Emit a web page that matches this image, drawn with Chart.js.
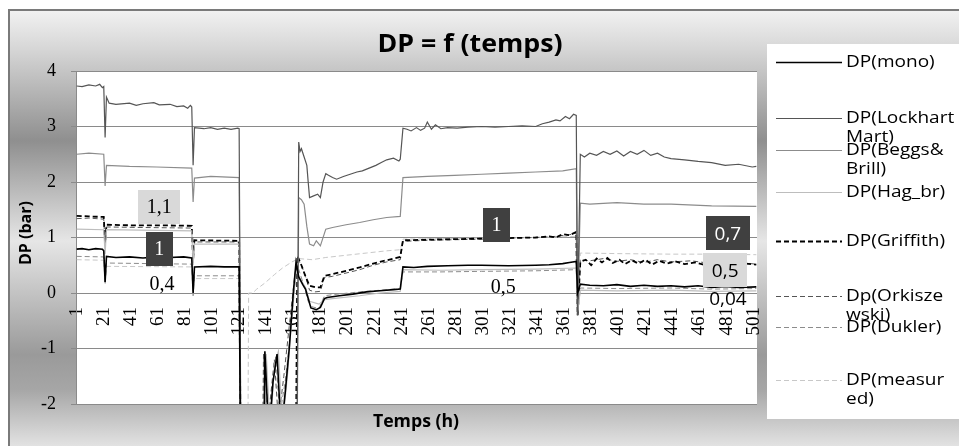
<!DOCTYPE html>
<html>
<head>
<meta charset="utf-8">
<script src="https://cdn.jsdelivr.net/npm/chart.js@4"></script>
<style>
	html, body { margin: 0; padding: 0; background: #fff; }
	canvas { display: block; }
</style>
</head>
<body>
<canvas id="chart" width="959" height="446"></canvas>
<script>
// ============= Data =============

const seriesNames = [ "DP(mono)", "DP(Lockhart Mart)", "DP(Beggs& Brill)", "DP(Hag_br)", "DP(Griffith)", "Dp(Orkiszewski)", "DP(Dukler)", "DP(measured)" ];

// legend text, wrapped the way the original legend wraps it
const legendText = [ [ "DP(mono)" ], [ "DP(Lockhart", "Mart)" ], [ "DP(Beggs&", "Brill)" ], [ "DP(Hag_br)" ], [ "DP(Griffith)" ], [ "Dp(Orkisze", "wski)" ], [ "DP(Dukler)" ], [ "DP(measur", "ed)" ] ];

const xTickValues = [ 1, 21, 41, 61, 81, 101, 121, 141, 161, 181, 201, 221, 241, 261, 281, 301, 321, 341, 361, 381, 401, 421, 441, 461, 481, 501 ];

// [hour, bar]
const monoData = [
	[1, 0.79], [5, 0.8], [10, 0.78], [15, 0.8], [20, 0.79], [21, 0.76], [22, 0.2], [23, 0.66], [30, 0.64], [40, 0.65], [50, 0.63], [60, 0.65], [70, 0.64], [80, 0.65], [86, 0.63], [87, 0.0],
	[88, 0.47], [100, 0.48], [110, 0.47], [121, 0.47], [123, -6], [138, -6], [140, -1.05], [143, -2.6], [146, -1.6], [149, -1.1], [152, -2.5], [155, -1.8], [158, -1.0], [161, 0.0], [163, 0.55],
	[165, 0.29], [168, 0.15], [170, 0.07], [172, -0.1], [174, -0.27], [178, -0.3], [181, -0.26], [184, -0.1], [186, -0.08], [195, -0.05], [205, -0.02], [215, 0.02], [225, 0.04], [235, 0.06], [240, 0.07],
	[242, 0.47], [250, 0.46], [260, 0.48], [275, 0.49], [290, 0.5], [300, 0.5], [320, 0.49], [340, 0.5], [350, 0.51], [360, 0.53], [365, 0.55], [370, 0.57], [371, 0.0],
	[373, 0.16], [380, 0.14], [390, 0.13], [400, 0.15], [410, 0.12], [420, 0.14], [430, 0.12], [440, 0.13], [450, 0.11], [460, 0.13], [470, 0.1], [480, 0.12], [490, 0.1], [503, 0.11]
];

const lockhartData = [
	[1, 3.73], [5, 3.72], [10, 3.75], [15, 3.73], [18, 3.76], [20, 3.7], [21, 3.72], [22, 2.8],
	[23, 3.53], [25, 3.42], [30, 3.4], [40, 3.42], [45, 3.38], [50, 3.41], [58, 3.43], [62, 3.39], [70, 3.4], [75, 3.36], [80, 3.37], [83, 3.33], [85, 3.38], [86, 3.35], [87, 2.3],
	[88, 2.98], [95, 2.96], [100, 2.98], [105, 2.95], [110, 2.97], [115, 2.95], [120, 2.97], [121, 2.96], [123, -6], [163, -6],
	[165, 2.72], [166, 2.55], [167, 2.6], [169, 2.45], [171, 2.3], [172, 2.0], [173, 1.72], [176, 1.75], [179, 1.78], [181, 1.72], [183, 2.0], [185, 2.15], [187, 2.12], [190, 2.08], [193, 2.05],
	[198, 2.1], [203, 2.14], [208, 2.18], [212, 2.2], [217, 2.25], [222, 2.3], [226, 2.35], [230, 2.4], [235, 2.43], [239, 2.38], [240, 2.41],
	[242, 2.97], [245, 2.95], [248, 2.92], [252, 2.98], [255, 2.93], [258, 2.97], [260, 3.08], [263, 2.95], [266, 3.03], [270, 2.96], [275, 2.98], [282, 2.97], [290, 2.99], [300, 3.0],
	[310, 2.99], [320, 3.0], [330, 3.01], [340, 3.0], [345, 3.05], [350, 3.08], [355, 3.12], [358, 3.1], [362, 3.18], [365, 3.14], [368, 3.22], [370, 3.2], [371, -0.4],
	[373, 2.5], [376, 2.45], [380, 2.52], [385, 2.48], [390, 2.55], [395, 2.5], [400, 2.56], [405, 2.47], [410, 2.55], [415, 2.5], [420, 2.57], [425, 2.48], [430, 2.52],
	[435, 2.45], [440, 2.42], [450, 2.4], [460, 2.37], [470, 2.35], [480, 2.3], [490, 2.32], [500, 2.27], [503, 2.28]
];

const beggsData = [
	[1, 2.5], [10, 2.52], [21, 2.5], [22, 1.93], [23, 2.3], [40, 2.28], [60, 2.27], [86, 2.25], [87, 1.64],
	[88, 2.07], [100, 2.1], [121, 2.08], [123, -6], [163, -6],
	[165, 1.72], [167, 1.68], [169, 1.6], [171, 1.2], [173, 0.88], [176, 0.85], [178, 0.94], [181, 0.85], [185, 1.15],
	[190, 1.18], [200, 1.23], [210, 1.27], [220, 1.32], [230, 1.36], [240, 1.38],
	[242, 2.08], [260, 2.1], [280, 2.12], [300, 2.14], [320, 2.16], [340, 2.18], [360, 2.2], [370, 2.24], [371, -0.3],
	[373, 1.62], [380, 1.6], [400, 1.63], [420, 1.6], [440, 1.6], [470, 1.57], [503, 1.56]
];

const hagData = [
	[1, 1.15], [21, 1.14], [22, 0.7], [23, 1.14], [86, 1.12], [87, 0.5], [88, 0.88], [121, 0.88], [123, -6], [138, -6],
	[141, -1.1], [144, -2.5], [147, -1.3], [150, -1.05], [153, -2.4], [157, -1.4], [160, -0.4], [163, 0.4],
	[165, 0.3], [170, 0.1], [173, -0.15], [180, -0.2], [184, -0.12], [190, -0.1], [210, -0.05], [225, 0.0], [240, 0.03],
	[242, 0.42], [270, 0.41], [300, 0.42], [340, 0.43], [370, 0.45], [371, -0.35],
	[373, 0.05], [400, 0.04], [440, 0.05], [470, 0.03], [503, 0.04]
];

const griffithData = [
	[1, 1.39], [10, 1.38], [21, 1.37], [22, 0.9], [23, 1.23], [40, 1.22], [60, 1.22], [86, 1.21], [87, 0.6], [88, 0.95], [121, 0.94], [123, -6], [162, -6],
	[164, 0.67], [167, 0.5], [170, 0.3], [173, 0.13], [178, 0.1], [181, 0.1], [184, 0.31], [190, 0.34], [200, 0.4], [210, 0.46], [220, 0.53], [230, 0.59], [240, 0.65],
	[242, 0.95], [260, 0.96], [280, 0.97], [300, 0.98], [320, 0.99], [340, 1.0], [350, 1.02], [355, 1.0], [360, 1.06], [365, 1.04], [370, 1.1], [371, -0.4],
	[373, 0.56], [377, 0.6], [381, 0.5], [385, 0.62], [389, 0.55], [393, 0.63], [397, 0.54], [402, 0.6], [406, 0.52], [411, 0.59], [416, 0.53], [421, 0.6], [426, 0.51],
	[431, 0.58], [437, 0.53], [443, 0.57], [450, 0.52], [458, 0.55], [466, 0.5], [475, 0.54], [485, 0.5], [495, 0.53], [503, 0.51]
];

const orkiszewskiData = [
	[1, 1.34], [10, 1.35], [21, 1.33], [22, 0.85], [23, 1.19], [50, 1.18], [86, 1.17], [87, 0.55], [88, 0.92], [121, 0.92], [123, -6], [137, -6],
	[139, -1.1], [142, -2.4], [147, -1.2], [150, -2.3], [154, -1.5], [158, -0.6], [162, 0.3], [164, 0.62], [167, 0.5], [170, 0.3], [173, 0.05], [177, 0.02], [181, 0.03], [184, 0.28],
	[190, 0.3], [200, 0.36], [210, 0.42], [220, 0.5], [230, 0.56], [240, 0.6],
	[242, 0.93], [260, 0.95], [280, 0.96], [300, 0.97], [320, 0.99], [340, 1.0], [355, 1.02], [365, 1.05], [370, 1.08], [371, -0.2],
	[373, 0.6], [380, 0.58], [390, 0.62], [400, 0.57], [410, 0.6], [420, 0.55], [430, 0.6], [440, 0.56], [455, 0.58], [470, 0.53], [490, 0.55], [503, 0.52]
];

const duklerData = [
	[1, 0.66], [21, 0.65], [22, 0.15], [23, 0.54], [86, 0.52], [87, -0.05], [88, 0.31], [121, 0.31], [123, -6], [137, -6],
	[140, -1.2], [143, -2.3], [148, -1.15], [151, -2.2], [155, -1.6], [159, -0.7], [162, 0.1], [164, 0.5], [168, 0.2], [172, -0.15], [175, -0.25], [180, -0.28], [184, -0.05],
	[190, -0.03], [210, 0.02], [230, 0.06], [240, 0.08],
	[242, 0.38], [270, 0.38], [300, 0.39], [340, 0.4], [370, 0.42], [371, -0.4],
	[373, 0.09], [400, 0.08], [440, 0.09], [470, 0.07], [503, 0.08]
];

const measuredData = [
	[1, 0.6], [21, 0.59], [22, 0.2], [23, 0.48], [86, 0.47], [87, 0.0], [88, 0.26], [121, 0.26], [123, -5], [127, -5], [128, 0], [131, 0],
	[134, 0.07], [140, 0.18], [147, 0.33], [153, 0.45], [160, 0.56], [165, 0.62], [175, 0.6], [185, 0.64], [200, 0.68], [215, 0.72], [230, 0.76], [240, 0.78],
	[242, 0.97], [270, 0.98], [300, 0.99], [340, 1.0], [370, 1.02], [371, -0.4],
	[373, 0.72], [400, 0.71], [440, 0.7], [470, 0.7], [503, 0.69]
];

const seriesData = [ monoData, lockhartData, beggsData, hagData, griffithData, orkiszewskiData, duklerData, measuredData ];

// value annotations written on the plot
const labelTexts = [ "1,1", "1", "0,4", "1", "0,5", "0,7", "0,5", "0,04" ];
const labelHours = [ 62, 62, 64, 311, 316, 482, 480, 482 ];
const labelValues = [ 1.1, 1, 0.4, 1, 0.5, 0.7, 0.5, 0.04 ];





// ============= Styles =============

const seriesStyles = [
	{ color: "#000000", width: 1.6, dash: [] },
	{ color: "#555555", width: 1.2, dash: [] },
	{ color: "#8c8c8c", width: 1.2, dash: [] },
	{ color: "#bdbdbd", width: 1.2, dash: [] },
	{ color: "#000000", width: 1.8, dash: [ 5, 3 ] },
	{ color: "#555555", width: 1, dash: [ 5, 3 ] },
	{ color: "#8c8c8c", width: 1, dash: [ 5, 3 ] },
	{ color: "#c8c8c8", width: 1, dash: [ 5, 3 ] }
];

// dy: shift from the anchored value, box: fill or null
const labelStyles = [
	{ dy: -25, box: "#d9d9d9", color: "#000", font: "20px 'Liberation Serif'" },
	{ dy: 11, box: "#404040", color: "#fff", font: "20px 'Liberation Serif'" },
	{ dy: 13, box: null, color: "#000", font: "20px 'Liberation Serif'" },
	{ dy: -13, box: "#404040", color: "#fff", font: "20px 'Liberation Serif'" },
	{ dy: 21, box: null, color: "#000", font: "20px 'Liberation Serif'" },
	{ dy: -21, box: "#404040", color: "#fff", font: "19px 'Open Sans'" },
	{ dy: 5, box: "#d9d9d9", color: "#000", font: "19px 'Open Sans'" },
	{ dy: 8, box: null, color: "#000", font: "19px 'Open Sans'" }
];

const legendBox = { left: 767, top: 44, bottom: 419 };
const legendRowY = [ 62, 118, 150, 192, 241, 296, 327, 380 ];





// ============= Plugins =============

// text squeezed wider, as in the original picture
function stretchedText(ctx, text, x, y, stretch)
{
	ctx.save();
	ctx.translate(x, y);
	ctx.scale(stretch, 1);
	ctx.fillText(text, 0, 0);
	ctx.restore();
}

const backgroundPlugin = {
	id: "background",
	beforeDraw(chart)
	{
		const { ctx, width, height, chartArea } = chart;
		ctx.save();

		ctx.fillStyle = "#ffffff";
		ctx.fillRect(0, 0, width, height);

		const g = ctx.createLinearGradient(0, 10, 0, height);
		g.addColorStop(0, "#f2f2f2");
		g.addColorStop(0.09, "#d6d6d6");
		g.addColorStop(0.3, "#8f8f8f");
		g.addColorStop(0.53, "#e6e6e6");
		g.addColorStop(0.79, "#9a9a9a");
		g.addColorStop(0.87, "#a6a6a6");
		g.addColorStop(1, "#e2e2e2");
		ctx.fillStyle = g;
		ctx.fillRect(9, 10, width - 9, height - 10);

		ctx.strokeStyle = "#7a7a7a";
		ctx.lineWidth = 2;
		ctx.beginPath();
		ctx.moveTo(9, height);
		ctx.lineTo(9, 10);
		ctx.lineTo(width, 10);
		ctx.stroke();

		ctx.fillStyle = "#ffffff";
		ctx.fillRect(chartArea.left, chartArea.top, chartArea.width, chartArea.height);
		ctx.fillRect(legendBox.left, legendBox.top, width - legendBox.left, legendBox.bottom - legendBox.top);

		ctx.restore();
	}
};

const valueLabelPlugin = {
	id: "valueLabels",
	afterDatasetsDraw(chart)
	{
		const { ctx, scales } = chart;
		ctx.save();
		ctx.textAlign = "center";
		ctx.textBaseline = "middle";

		labelTexts.forEach((text, i) =>
		{
			const style = labelStyles[i];
			const x = scales.x.getPixelForValue(labelHours[i]);
			const y = scales.y.getPixelForValue(labelValues[i]) + style.dy;

			ctx.font = style.font;
			if (style.box)
			{
				const w = ctx.measureText(text).width + 17;
				ctx.fillStyle = style.box;
				ctx.fillRect(Math.round(x - w / 2), Math.round(y - 17), Math.round(w), 34);
			}
			ctx.fillStyle = style.color;
			ctx.fillText(text, x, y + 1);
		});

		ctx.restore();
	}
};

const textPlugin = {
	id: "texts",
	afterDraw(chart)
	{
		const { ctx } = chart;
		ctx.save();
		ctx.fillStyle = "#000";
		ctx.textBaseline = "middle";

		// title
		ctx.textAlign = "center";
		ctx.font = "bold 25px 'Open Sans'";
		stretchedText(ctx, "DP = f (temps)", 470, 45, 1.07);

		// axis titles
		ctx.font = "bold 17px 'Open Sans'";
		stretchedText(ctx, "Temps (h)", 416, 422, 1.04);

		ctx.save();
		ctx.translate(26, 233);
		ctx.rotate(-Math.PI / 2);
		ctx.font = "bold 16px 'Open Sans'";
		ctx.fillText("DP (bar)", 0, 0);
		ctx.restore();

		// legend
		ctx.textAlign = "left";
		ctx.font = "17px 'Open Sans'";
		legendText.forEach((lines, i) =>
		{
			const style = seriesStyles[i];
			const y = legendRowY[i];

			ctx.strokeStyle = style.color;
			ctx.lineWidth = style.width;
			ctx.setLineDash(style.dash);
			ctx.beginPath();
			ctx.moveTo(776, y + 0.5);
			ctx.lineTo(842, y + 0.5);
			ctx.stroke();

			lines.forEach((line, j) => stretchedText(ctx, line, 846, y + j * 19, 1.12));
		});

		ctx.restore();
	}
};





// ============= Chart =============

const datasets = seriesData.map((points, i) => ({
	label: seriesNames[i],
	data: points.map(([ x, y ]) => ({ x, y })),
	borderColor: seriesStyles[i].color,
	borderWidth: seriesStyles[i].width,
	borderDash: seriesStyles[i].dash,
	pointRadius: 0,
	tension: 0,
	fill: false
}));

new Chart(document.getElementById("chart"), {
	type: "line",
	data: { datasets },
	options: {
		responsive: false,
		animation: false,
		devicePixelRatio: 1,
		layout: { padding: { top: 71, left: 8, right: 202, bottom: 42 } },
		plugins: { legend: { display: false }, tooltip: { enabled: false } },
		scales: {
			x: {
				type: "linear",
				position: { y: 0 },
				min: 0.5,
				max: 503.5,
				afterBuildTicks: scale => { scale.ticks = xTickValues.map(value => ({ value })); },
				grid: { display: false, drawTicks: false },
				border: { display: false },
				ticks: {
					autoSkip: false,
					minRotation: 90,
					maxRotation: 90,
					padding: 14,
					color: "#000",
					font: { family: "'Liberation Serif'", size: 19 }
				}
			},
			y: {
				min: -2,
				max: 4,
				afterFit: scale => { scale.width = 68; },
				ticks: { stepSize: 1, padding: 15, color: "#000", font: { family: "'Liberation Serif'", size: 18 } },
				grid: { color: "#8a8a8a", lineWidth: 1, tickLength: 5 },
				border: { display: true, color: "#8a8a8a" }
			}
		}
	},
	plugins: [ backgroundPlugin, valueLabelPlugin, textPlugin ]
});
</script>
</body>
</html>
